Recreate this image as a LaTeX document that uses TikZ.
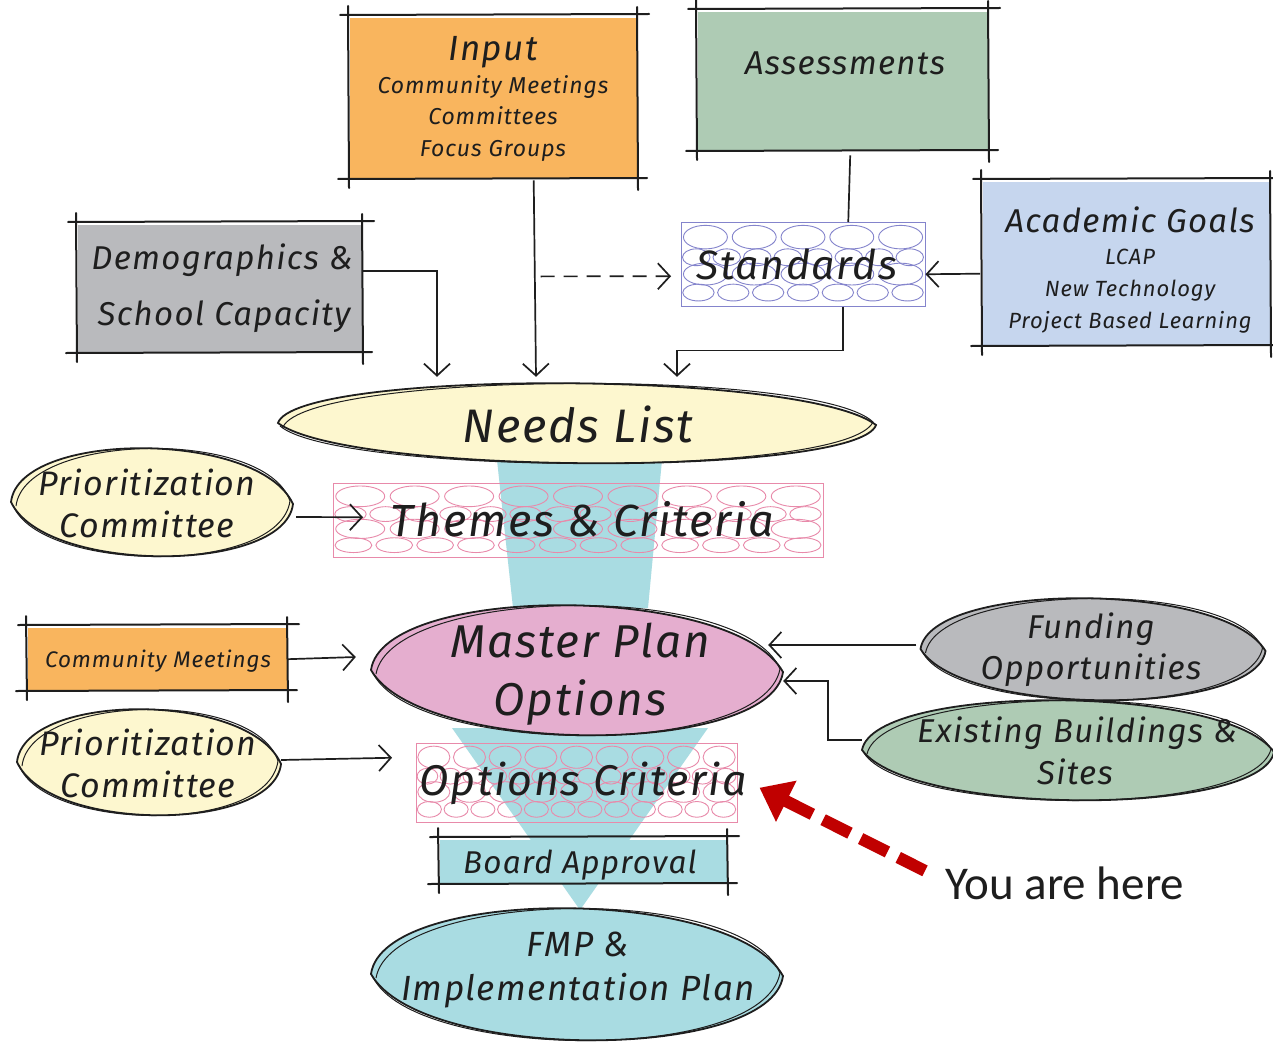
\documentclass[tikz,border=0pt]{standalone}
\usepackage{fontspec}
\setmainfont{Fira Sans}
\newfontfamily\hand{Fira Sans}[LetterSpace=4]
\newfontfamily\calib{Carlito}
\usetikzlibrary{arrows.meta,calc,shapes.geometric}
\newcommand\fs[1]{\fontsize{#1}{#1}\selectfont}
\definecolor{ink}{HTML}{1E1E1E}
\definecolor{cOrange}{HTML}{F9B55E}
\definecolor{cGreen}{HTML}{AECBB4}
\definecolor{cBlue}{HTML}{C6D6EE}
\definecolor{cGray}{HTML}{B9BABD}
\definecolor{cYellow}{HTML}{FDF7CF}
\definecolor{cPink}{HTML}{E5AECF}
\definecolor{cCyan}{HTML}{A9DCE2}
\definecolor{cRed}{HTML}{C00000}
\definecolor{pebPink}{HTML}{E88AAA}
\definecolor{pebBlue}{HTML}{8484CC}
\tikzset{
  sk/.style={line width=2pt, draw=ink, line cap=round},
  outl/.style={line width=1.8pt, draw=ink},
  outlb/.style={line width=1pt, draw=ink},
  arr/.style={line width=1.7pt, draw=ink, -{Straight Barb[length=12pt,width=26pt,line width=1.7pt]}},
  txt/.style={text=ink, inner sep=0pt},
  holder/.style={draw=none, inner sep=0pt},
}
% sketchy box: name x1 y1 x2 y2 fill
\newcommand\sketchbox[6]{%
  \node[holder, fill=#6, minimum width={#4-#2}, minimum height={#5-#3}, anchor=north west] (#1) at (#2,#3) {};
  \draw[sk] ({#2-10},{#3-3}) -- ({#4+12},{#3-4});
  \draw[sk] ({#2-12},{#5+1}) -- ({#4+10},{#5});
  \draw[sk] ({#2-2},{#3-12}) -- ({#2-1},{#5+10});
  \draw[sk] ({#4},{#3-11}) -- ({#4+1},{#5+12});
}
% leaf shaped ellipse: name cx cy w h fill
\newcommand\leaf[6]{%
  \fill[#6] ({#2-#4/2},{#3}) .. controls ({#2-0.47*#4},{#3-0.667*#5}) and ({#2+0.38*#4},{#3-0.667*#5}) .. ({#2+#4/2},{#3+2}) .. controls ({#2+0.47*#4},{#3+0.667*#5}) and ({#2-0.38*#4},{#3+0.667*#5}) .. cycle;
  \draw[outl] ({#2-#4/2},{#3}) .. controls ({#2-0.47*#4},{#3-0.667*#5}) and ({#2+0.38*#4},{#3-0.667*#5}) .. ({#2+#4/2},{#3+2}) .. controls ({#2+0.47*#4},{#3+0.667*#5}) and ({#2-0.38*#4},{#3+0.667*#5}) .. cycle;
  \draw[outlb] ({#2-#4/2+5},{#3+4}) .. controls ({#2-0.45*#4},{#3-0.64*#5}) and ({#2+0.40*#4},{#3-0.69*#5}) .. ({#2+#4/2-3},{#3-1}) .. controls ({#2+0.45*#4},{#3+0.69*#5}) and ({#2-0.40*#4},{#3+0.65*#5}) .. ({#2-#4/2+2},{#3+3});
  \node[holder, ellipse, minimum width={#4}, minimum height={#5}] (#1) at (#2,#3) {};
}
% pebble pattern: name x1 y1 x2 y2 colour ncols
\newcommand\pebbles[7]{%
  \node[holder, draw=#6, line width=0.5pt, minimum width={#4-#2}, minimum height={#5-#3}, anchor=north west] (#1) at (#2,#3) {};
  \foreach \yc/\yr/\m in {0.18/0.14/1.0, 0.42/0.10/1.6, 0.62/0.13/1.0, 0.84/0.10/1.3} {
    \pgfmathtruncatemacro\pbN{round(#7*\m)}
    \foreach \i in {1,...,\pbN} {
      \draw[#6, line width=0.9pt] ({#2+(\i-0.5)*(#4-#2)/\pbN},{#3+\yc*(#5-#3)}) ellipse [x radius={0.45*(#4-#2)/\pbN}, y radius={\yr*(#5-#3)}];
    }
  }
}
% text: name x y size text
\newcommand\T[5]{\node[txt, anchor=base, font=\hand\itshape\fs{#4}] (#1) at (#2,{#3+0.35*#4}) {#5};}
\begin{document}
\begin{tikzpicture}[x=1pt,y=-1pt]
\useasboundingbox (0,0) rectangle (1273,1043);
\fill[white] (0,0) rectangle (1273,1043);
\clip (0,0) rectangle (1273,1043);

% funnel
\fill[cCyan] (497,460) -- (662,460) -- (648,608) -- (513,608) -- cycle;
\fill[cCyan] (452,728) -- (708,728) -- (580,910) -- cycle;

% top boxes
\sketchbox{input}{350}{18}{637}{178}{cOrange}
\sketchbox{assess}{698}{12}{988}{150}{cGreen}
\sketchbox{acad}{983}{182}{1270}{345}{cBlue}
\sketchbox{demo}{78}{225}{362}{352}{cGray}
\pebbles{std}{681}{222}{925}{306}{pebBlue}{5}

% ellipses
\leaf{needs}{577}{423}{598}{80}{cYellow}
\leaf{prio1}{152}{502}{282}{108}{cYellow}
\pebbles{themes}{333}{483}{823}{557}{pebPink}{9}
\leaf{master}{577}{670}{412}{130}{cPink}
\sketchbox{comm}{28}{628}{287}{690}{cOrange}
\leaf{exist}{1068}{750}{412}{100}{cGreen}
\leaf{fund}{1093}{649}{345}{102}{cGray}
\leaf{prio2}{149}{762}{264}{106}{cYellow}
\pebbles{optcrit}{416}{743}{737}{822}{pebPink}{9}
\sketchbox{board}{440}{840}{727}{883}{cCyan}
\leaf{fmp}{577}{974}{412}{132}{cCyan}

% texts
\T{tInput}{493}{48}{35}{Input}
\T{tIn1}{493}{85}{23}{Community Meetings}
\T{tIn2}{493}{116}{23}{Committees}
\T{tIn3}{493}{148}{23}{Focus Groups}
\T{tAss}{845}{63}{33}{Assessments}
\T{tStd}{797}{265}{41}{Standards}
\T{tAcad}{1130}{221}{33}{Academic Goals}
\T{tAc1}{1130}{257}{22}{LCAP}
\T{tAc2}{1130}{289}{22}{New Technology}
\T{tAc3}{1130}{321}{22}{Project Based Learning}
\T{tDem1}{222}{258}{33}{Demographics \&}
\T{tDem2}{224}{314}{33}{School Capacity}
\T{tNeeds}{578}{426}{47}{Needs List}
\T{tPa1}{147}{484}{34}{Prioritization}
\T{tPa2}{147}{526}{34}{Committee}
\T{tThemes}{582}{521}{45}{Themes \& Criteria}
\T{tComm}{158}{660}{22.5}{Community Meetings}
\T{tMas1}{580}{641}{46}{Master Plan}
\T{tMas2}{580}{699}{46}{Options}
\T{tFun1}{1091}{627}{33}{Funding}
\T{tFun2}{1091}{668}{33}{Opportunities}
\T{tEx1}{1077}{731}{33}{Existing Buildings \&}
\T{tEx2}{1075}{773}{33}{Sites}
\T{tPb1}{148}{744}{34}{Prioritization}
\T{tPb2}{148}{786}{34}{Committee}
\T{tOpt}{583}{780}{43}{Options Criteria}
\T{tBoard}{580}{862}{31.5}{Board Approval}
\T{tFmp1}{578}{944}{35}{FMP \&}
\T{tFmp2}{578}{988}{35}{Implementation Plan}
\node[txt, font=\calib\fs{47}, anchor=base west] (yah) at (945,899) {You are here};

% connectors
\draw[arr] ($(input.south)+(40,2)$) -- ($(needs.north)+(-41,-6)$);
\draw[arr, dash pattern=on 14pt off 9pt] ($(input.south)+(47,98)$) -- ($(std.west)+(-10,12)$);
\draw[line width=1.7pt, draw=ink] ($(assess.south)+(7,5)$) -- ($(std.north)+(45,0)$);
\draw[arr] ($(acad.west)+(-3,10)$) -- ($(std.east)+(0,10)$);
\draw[arr] ($(std.south)+(40,0)$) -- ++(0,44) -| ($(needs.north)+(100,-6)$);
\draw[arr] ($(demo.east)+(0,-18)$) -| ($(needs.north)+(-140,-6)$);
\draw[arr] ($(prio1.east)+(3,15)$) -- ($(themes.west)+(30,-3)$);
\draw[arr] (comm.east) -- ($(master.west)+(-15,-13)$);
\draw[arr] ($(fund.west)+(-4,-4)$) -- ($(master.east)+(-15,-25)$);
\draw[arr] ($(exist.west)+(0,-10)$) -- ++(-34,0) |- ($(master.east)+(0,11)$);
\draw[arr] ($(prio2.east)+(0,-2)$) -- ($(optcrit.west)+(-24,-25)$);
\coordinate (here) at ($(optcrit.east)+(22,5)$);
\draw[cRed, line width=12pt, dash pattern=on 30pt off 12pt, -{Triangle[length=30pt,width=44pt]}] ($(yah.west)+(-20,-12)$) -- (here);
\end{tikzpicture}
\end{document}
